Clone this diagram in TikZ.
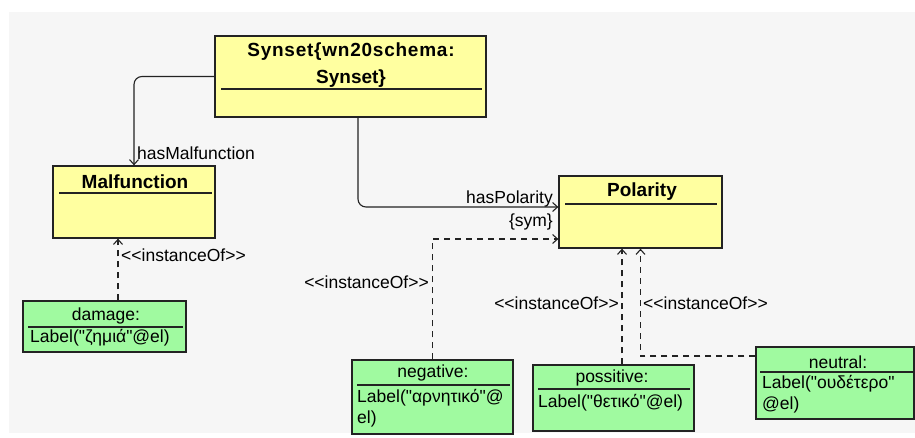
\documentclass[tikz,border=0pt]{standalone}
\usepackage{fontspec}
\setmainfont{Liberation Sans}[Ligatures=TeXOff]
\usetikzlibrary{arrows.meta,calc}
\definecolor{bggray}{RGB}{246,246,246}
\definecolor{clsyellow}{RGB}{255,255,160}
\definecolor{objgreen}{RGB}{160,250,160}
\definecolor{edgegray}{RGB}{35,35,35}
\begin{document}
\begin{tikzpicture}[x=1pt,y=-1pt,
  cls/.style={draw=edgegray, line width=1.3pt, fill=clsyellow, rectangle, inner sep=0pt},
  obj/.style={draw=edgegray, line width=1.1pt, fill=objgreen, rectangle, inner sep=0pt},
  title/.style={font=\fontsize{19}{22}\selectfont\bfseries, inner sep=0pt},
  lbl/.style={font=\fontsize{17.5}{21}\selectfont, inner sep=0pt},
  divider/.style={draw=edgegray, line width=1.1pt},
  tip/.style={-{Straight Barb[length=5pt,width=9pt]}},
  assoc/.style={draw=edgegray, line width=1.1pt, rounded corners=8pt, tip},
  inst/.style={draw=edgegray, line width=1.1pt, dash pattern=on 6pt off 5pt, tip},
]
\useasboundingbox (0,0) rectangle (915,437);
\fill[white] (0,0) rectangle (915,437);
\fill[bggray] (9,12) rectangle (915,433);

% classes
\node[cls, minimum width=271pt, minimum height=81pt] (synset) at (350.5,76.5) {};
\node[cls, minimum width=162pt, minimum height=72pt] (malf) at (134,202) {};
\node[cls, minimum width=163pt, minimum height=72pt] (polarity) at (640.5,212) {};

% objects
\node[obj, minimum width=163pt, minimum height=51pt] (dmg) at (104.5,326.5) {};
\node[obj, minimum width=161pt, minimum height=74pt] (neg) at (432.5,397) {};
\node[obj, minimum width=161pt, minimum height=66pt] (poss) at (613.5,398) {};
\node[obj, minimum width=158pt, minimum height=72pt] (neut) at (835,383) {};

% dividers
\draw[divider] (221,89) -- (482,89);
\draw[divider] (59,193) -- (212,193);
\draw[divider] (565,204) -- (717,204);
\draw[divider] (28,327) -- (183,327);
\draw[divider] (357,385) -- (510,385);
\draw[divider] (538,389) -- (690,389);
\draw[divider] (760,372) -- (914,372);

% class titles
\node[title] (t1) at (351,52) {\addfontfeature{LetterSpace=4}Synset\{wn20schema:};
\node[title] (t2) at (351,79) {Synset\}};
\node[title] (t3) at (135,182) {Malfunction};
\node[title] (t4) at (642,192) {Polarity};

% object texts
\node[lbl] (d1) at (106,316) {damage:};
\node[lbl, anchor=west] (d2) at (30,338) {Label("ζημιά"@el)};
\node[lbl] (n1) at (433,373) {negative:};
\node[lbl, anchor=west] (n2) at (357,398) {Label("αρνητικό"@};
\node[lbl, anchor=west] (n3) at (357,419) {el)};
\node[lbl] (p1) at (612,378) {possitive:};
\node[lbl, anchor=west] (p2) at (538,403) {Label("θετικό"@el)};
\node[lbl] (u1) at (838,362) {neutral:};
\node[lbl, anchor=west] (u2) at (762,384) {Label("ουδέτερο"};
\node[lbl, anchor=west] (u3) at (762,405) {@el)};

% associations
\draw[assoc] (synset.west) -| (malf.north);
\draw[assoc] ([xshift=7.5pt]synset.south) |- ([yshift=5pt]polarity.west);
\node[lbl, anchor=west] (lhm) at (137,153) {hasMalfunction};
\node[lbl, anchor=east] (lhp) at (553,199) {hasPolarity};
\node[lbl, anchor=east] (lsym) at (553,222) {\{sym\}};

% instanceOf dependencies
\draw[inst] ([xshift=13.5pt]dmg.north) -- ([xshift=13.5pt]dmg.north |- malf.south);
\draw[inst] (neg.north) |- ([yshift=-27pt]polarity.west);
\draw[inst] ([xshift=8.5pt]poss.north) -- ([xshift=8.5pt]poss.north |- polarity.south);
\draw[inst] ([yshift=27pt]neut.west) -| (polarity.south);

\node[lbl, anchor=west] (i1) at (121,255) {<<instanceOf>>};
\node[lbl, anchor=east] (i2) at (429,282) {<<instanceOf>>};
\node[lbl, anchor=east] (i3) at (619,303) {<<instanceOf>>};
\node[lbl, anchor=west] (i4) at (643,303) {<<instanceOf>>};
\end{tikzpicture}
\end{document}
